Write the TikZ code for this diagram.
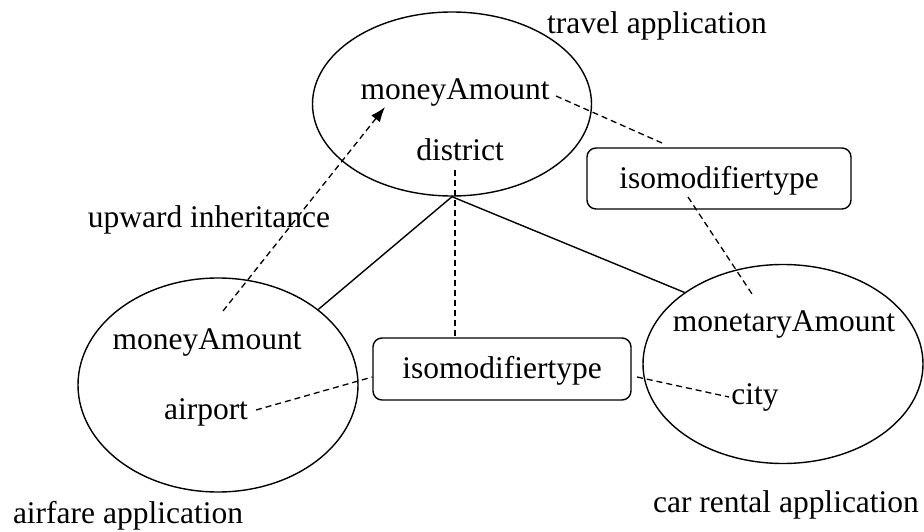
\documentclass[tikz,border=0pt]{standalone}
\usepackage{fontspec}
\setmainfont{Liberation Serif}
\usetikzlibrary{shapes.geometric,arrows.meta}
\begin{document}
\begin{tikzpicture}[x=1pt,y=-1pt,
  every node/.style={font=\fontsize{31.5}{37}\selectfont},
  txt/.style={inner sep=0pt},
  app/.style={draw,ellipse,line width=1.4pt,inner sep=0pt},
  modbox/.style={draw,rounded corners=9pt,line width=1.4pt,inner sep=0pt},
  link/.style={line width=1.4pt},
  dlink/.style={line width=1.3pt,dash pattern=on 6pt off 4pt}]
\useasboundingbox (0,0) rectangle (924,532);
% ellipses
\node[app,minimum width=279pt,minimum height=184pt] (tapp) at (452,104) {};
\node[app,minimum width=280pt,minimum height=214pt] (aapp) at (218,385) {};
\node[app,minimum width=280pt,minimum height=199pt] (capp) at (783,364) {};
% boxes
\node[modbox,minimum width=264pt,minimum height=61pt] (box1) at (719,178.5) {};
\node[modbox,minimum width=258pt,minimum height=62pt] (box2) at (502,369) {};
% texts
\node[txt] (ttitle) at (657,26) {travel application};
\node[txt] (tmoney) at (455,93) {moneyAmount};
\node[txt] (tdist) at (460,150) {district};
\node[txt] (iso1) at (719,181) {isomodifiertype};
\node[txt] (upw) at (209,220) {upward inheritance};
\node[txt] (amoney) at (207,342) {moneyAmount};
\node[txt] (airport) at (206,412) {airport};
\node[txt] (atitle) at (128,516) {airfare application};
\node[txt] (iso2) at (502,371) {isomodifiertype};
\node[txt] (cmoney) at (784,325) {monetaryAmount};
\node[txt] (city) at (755,397) {city};
\node[txt] (ctitle) at (786,505) {car rental application};
% free ends of connectors
\coordinate (upstart) at (223,311);
\coordinate (uptip) at (385,107);
\coordinate (tm1) at (556,96);
\coordinate (tm2) at (662,143);
\coordinate (b1a) at (688,197);
\coordinate (b1b) at (754,297);
\coordinate (ds) at (455,170);
\coordinate (ap) at (256,410);
\coordinate (cy) at (729,397);
\coordinate (b2r) at (637,377);
% solid links
\draw[link] (tapp.south) -- (aapp.37.6);
\draw[link] (tapp.south) -- (capp.144.9);
% dashed links
\draw[dlink,-{Latex[length=15pt,width=11pt]}] (upstart) -- (uptip);
\draw[dlink] (tm1) -- (tm2);
\draw[dlink] (b1a) -- (b1b);
\draw[dlink] (ds) -- (ds |- box2.north);
\draw[dlink] (ap) -- (box2.west |- 0,377);
\draw[dlink] (b2r) -- (cy);
\end{tikzpicture}
\end{document}
